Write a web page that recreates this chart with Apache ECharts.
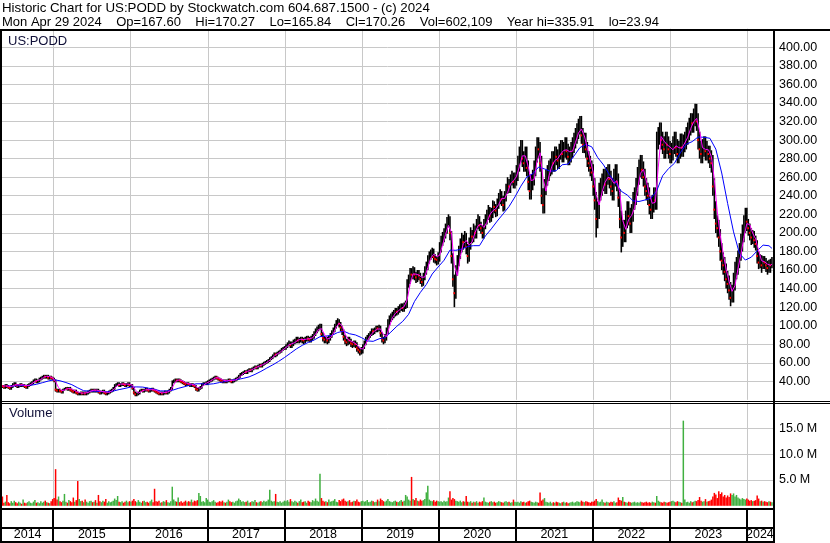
<!DOCTYPE html>
<html><head><meta charset="utf-8">
<script src="https://cdn.jsdelivr.net/npm/echarts@6/dist/echarts.min.js"></script>
<style>html,body{margin:0;padding:0;background:#fff}#c{width:830px;height:543px}</style>
</head><body><div id="c"></div>
<script>
// ---------------- DATA (weekly, first week Mon 2014-05-05) ----------------
const firstWeek = '2014-05-05';
const closes = [
35,34,36,35,34,33,35,37,38,36,35,36,37,36,36,35,34,36,37,38,39,41,42,40,41,43,44,45,46,45,46,44,45,44,43,
41,31,30,31,30,29,31,32,33,32,33,31,30,29,30,28,27,27,28,27,28,27,28,29,30,31,30,31,30,31,29,28,29,30,28,27,28,29,30,31,33,36,37,38,36,37,38,37,36,37,38,36,
36,33,28,26,27,28,30,31,30,31,32,31,30,31,32,31,30,29,28,27,28,27,28,29,28,29,31,33,40,41,42,41,42,41,40,39,38,37,38,37,36,37,36,35,32,31,33,34,37,38,38,39,
40,41,42,43,44,45,44,43,42,41,40,41,40,41,42,41,40,41,42,43,44,46,48,49,50,51,50,52,53,52,54,55,56,55,57,58,57,59,60,61,62,63,65,66,68,70,69,71,72,73,75,76,77,
78,80,82,79,81,83,84,86,84,85,86,85,84,86,87,86,85,87,89,92,95,97,99,100,91,87,85,86,84,87,90,93,96,100,104,105,102,98,94,88,84,82,86,84,81,80,82,80,76,74,72,75,
78,82,86,88,90,92,95,94,96,98,97,99,92,86,84,88,95,104,108,110,112,114,116,115,118,120,121,119,122,124,146,150,158,155,160,155,152,157,154,150,147,153,160,165,172,176,178,180,174,172,171,175,
185,192,196,200,205,212,215,200,175,150,135,160,170,180,188,195,190,197,185,175,190,200,196,205,200,210,215,208,205,200,210,215,220,225,218,222,230,228,224,232,238,242,236,230,240,248,255,250,258,262,255,260,
265,275,285,292,280,275,285,270,255,245,255,260,270,285,295,290,275,240,230,250,260,265,270,272,280,275,285,282,278,288,292,285,290,295,288,282,285,290,295,300,305,310,315,318,305,295,300,290,280,275,270,265,
250,235,215,225,245,250,255,260,252,262,265,258,250,245,260,265,255,238,215,195,205,200,215,225,218,210,222,235,240,250,262,270,275,268,260,250,245,240,230,225,232,240,235,300,305,310,300,295,290,300,295,290,285,
288,295,300,292,285,290,298,292,297,300,305,310,315,320,318,325,330,320,300,290,285,292,295,288,290,285,280,275,250,225,210,205,195,180,170,165,158,150,145,138,130,135,148,160,165,172,180,190,200,210,218,212,
205,200,195,198,192,188,175,168,172,165,170,168,165,162,168,165,170];
const highs = [
36,36,37,37,36,35,36,38,39,39,37,37,38,38,37,37,36,37,38,39,40,42,43,43,42,44,45,46,47,47,47,47,46,46,45,
44,42,32,32,32,31,32,33,34,34,34,34,32,31,31,31,29,28,29,29,29,29,29,30,31,32,32,32,32,32,32,30,30,31,31,29,29,30,31,32,34,37,38,39,39,38,39,39,38,38,39,39,
37,37,34,29,28,29,31,32,32,32,33,33,32,32,33,33,32,31,30,29,29,29,29,30,30,30,32,34,41,42,43,43,43,43,42,41,40,39,39,39,38,38,38,37,36,33,34,35,38,39,39,40,
41,42,43,44,45,46,46,45,44,43,42,42,42,42,43,43,42,42,43,44,45,47,49,50,51,52,52,53,54,54,55,56,57,57,58,59,59,60,61,62,63,64,66,67,69,71,71,72,73,74,76,77,78,
80,82,84,83,83,85,86,88,88,87,88,88,87,88,89,89,88,89,91,94,97,99,101,102,102,93,89,88,88,89,92,95,98,102,106,108,107,104,100,96,90,86,88,88,86,83,84,84,82,78,76,77,
80,84,88,90,92,94,97,97,98,100,100,101,100,93,88,91,98,107,111,113,115,117,119,119,121,123,124,124,125,127,150,155,162,162,164,163,158,160,160,157,153,157,164,169,176,180,182,184,183,177,175,179,
190,197,201,205,210,217,220,218,202,178,155,165,176,186,194,200,198,202,200,188,195,206,203,210,208,215,220,218,212,208,215,220,225,230,228,227,235,234,231,237,243,247,245,240,245,253,260,258,263,267,265,265,
273,283,293,300,300,288,293,293,278,263,263,268,278,293,303,303,298,283,248,258,268,273,278,280,288,288,293,293,290,296,300,300,298,303,303,296,293,298,303,308,313,318,323,326,326,313,308,308,298,288,283,278,
274,259,244,234,254,259,264,269,269,271,274,274,267,259,269,274,274,264,247,224,214,214,224,234,234,227,231,244,249,259,271,279,284,284,277,269,259,254,249,239,241,249,249,309,314,319,319,309,304,309,309,304,299,
297,304,309,309,301,299,307,307,306,309,314,319,324,329,329,334,339,339,329,309,299,301,304,304,299,294,294,289,284,259,234,219,214,204,189,179,174,167,159,154,147,144,157,169,174,181,189,199,209,219,227,227,
215,210,205,203,202,197,192,180,177,176,175,175,173,170,171,172,174];
const lows = [
34,33,33,34,33,32,32,34,36,35,34,34,35,35,35,34,33,33,35,36,37,38,40,39,39,40,42,43,44,44,44,43,43,43,42,
40,30,29,29,29,28,28,31,32,31,31,30,29,28,28,27,26,26,26,26,26,26,26,27,28,29,29,29,29,29,28,27,27,28,27,26,26,27,28,29,30,32,35,36,35,35,36,36,35,35,36,35,
35,32,27,25,25,26,27,30,29,29,30,30,29,29,30,30,29,28,27,26,26,26,26,27,27,27,28,30,32,39,40,40,40,40,39,38,37,36,36,36,35,35,35,34,31,30,30,32,33,36,37,37,
37,39,40,41,42,43,43,42,41,40,39,39,39,39,40,40,39,39,40,41,42,43,45,47,48,49,49,49,51,51,51,53,54,54,54,56,56,56,58,59,60,61,62,64,65,67,67,68,70,71,72,74,75,
75,77,79,77,77,79,81,82,82,82,83,82,81,82,84,84,83,83,85,87,90,93,95,97,89,84,82,82,81,82,85,88,91,94,98,101,99,95,91,85,81,79,80,81,78,77,78,77,73,71,69,70,
71,76,80,84,86,88,90,91,92,94,94,95,89,83,81,82,85,92,101,105,107,109,111,112,113,115,117,116,116,119,120,142,146,151,151,150,147,148,150,146,143,144,150,156,161,168,172,174,169,168,166,167,
170,180,187,191,195,200,207,193,168,143,121,130,155,165,173,180,183,185,178,168,170,183,190,191,195,195,205,203,200,195,195,205,210,215,212,213,217,222,218,219,227,232,230,224,225,235,243,244,244,252,249,249,
252,257,267,277,272,267,267,262,247,237,237,247,252,262,277,282,267,232,222,222,242,252,257,262,264,267,267,274,270,270,280,277,277,282,280,274,274,277,282,287,292,297,302,307,297,287,287,282,272,267,262,257,
241,226,196,206,216,236,241,246,243,243,253,249,241,236,236,251,246,229,206,180,186,191,191,206,209,201,201,213,226,231,241,253,261,259,251,241,236,231,221,216,216,223,226,226,291,296,291,286,281,281,286,281,276,
276,279,286,283,276,276,281,283,283,288,291,296,301,306,309,309,316,311,291,281,276,276,283,279,279,276,271,266,241,216,201,196,186,171,161,156,149,141,136,129,122,126,126,139,151,156,163,171,181,191,201,203,
198,193,188,189,185,182,168,162,163,158,162,162,159,156,158,158,163];
const volumesM = [
1.8,0.6,0.8,2.1,0.7,0.5,0.9,0.6,1.0,0.7,0.5,0.8,0.6,0.4,1.2,0.6,0.5,0.7,0.9,0.6,0.5,0.8,1.1,0.6,0.7,0.5,0.9,0.6,0.8,1.0,0.7,0.6,0.5,0.9,1.3,
1.5,7.1,1.2,1.8,0.9,0.7,1.0,2.3,0.8,0.6,1.1,0.9,0.7,1.6,0.8,1.1,4.8,1.3,0.9,1.0,0.7,1.2,0.8,0.6,0.9,1.0,0.7,0.8,1.1,0.6,2.1,0.9,0.7,1.0,0.8,1.3,0.6,0.9,0.7,0.8,1.0,1.4,1.1,1.9,0.8,0.7,0.9,0.6,0.8,1.0,0.7,0.9,
0.8,1.0,1.3,0.9,0.7,1.1,0.8,0.6,0.9,1.0,0.7,0.8,0.6,0.9,1.2,0.7,3.3,0.9,0.8,1.0,0.6,0.7,0.9,0.8,1.1,0.7,0.6,0.9,3.7,1.2,0.9,0.8,1.6,0.7,0.9,0.6,0.8,1.0,0.7,0.9,0.8,1.2,0.7,1.0,0.9,1.1,2.5,1.9,0.8,0.9,0.7,1.5,
1.2,0.8,0.7,0.9,1.1,0.8,0.6,0.7,0.9,0.8,1.0,0.7,0.6,0.8,1.2,0.9,0.7,0.8,0.6,0.9,1.0,1.4,1.1,0.8,0.9,0.7,0.8,1.0,0.6,0.7,0.9,0.8,1.1,0.7,0.6,0.8,0.9,0.7,1.0,0.8,0.9,1.2,3.1,1.0,0.8,0.9,2.3,0.8,0.7,0.9,0.6,0.8,1.0,
0.9,1.1,0.8,1.3,0.9,0.7,1.0,0.8,0.6,0.9,1.2,0.7,0.8,0.9,0.6,1.0,0.8,0.7,1.1,0.9,1.4,1.0,0.8,6.2,1.5,1.0,0.8,0.9,0.7,1.2,0.8,0.9,1.0,1.3,0.8,0.7,1.1,0.9,1.2,1.4,1.0,0.8,0.9,1.1,0.7,0.8,1.0,0.9,1.2,0.8,0.7,0.9,
1.0,0.8,0.9,1.1,0.7,0.8,1.0,0.9,0.7,0.8,1.2,0.9,1.4,1.1,0.9,0.8,1.0,1.3,0.9,0.8,0.7,0.9,1.0,0.8,0.7,0.9,1.1,0.8,1.0,2.1,1.8,1.2,1.0,5.6,1.3,1.1,1.5,1.0,0.9,1.2,1.0,1.1,1.3,2.6,3.9,1.2,1.0,0.9,1.1,0.8,1.0,0.9,
0.8,0.9,0.7,1.0,0.8,0.9,1.6,2.8,1.2,1.5,1.3,1.0,0.9,0.8,1.0,0.7,0.9,0.8,1.9,0.8,0.7,0.9,0.6,0.8,0.7,0.9,0.6,0.8,0.7,0.9,1.6,0.8,0.7,0.6,0.8,0.9,0.7,0.8,0.6,0.7,0.9,0.8,0.7,0.6,0.8,0.9,0.7,0.8,0.6,0.7,1.2,0.8,
0.7,0.8,0.6,0.9,0.7,0.8,0.6,0.7,0.9,1.0,0.8,0.7,0.6,0.8,0.7,0.6,2.6,1.0,1.2,1.5,0.8,0.7,0.6,0.8,0.5,0.7,0.6,0.8,0.7,0.6,0.5,0.7,0.8,0.6,0.7,0.5,0.6,0.7,0.8,0.6,0.7,0.9,0.8,0.7,1.0,0.8,0.7,0.9,0.8,0.7,0.6,0.8,
0.8,1.0,1.3,0.9,0.7,0.8,1.2,0.7,0.6,0.8,0.7,0.6,0.8,0.7,0.9,0.6,0.7,1.6,1.1,1.0,1.7,0.8,0.7,0.6,0.8,0.7,0.6,0.7,0.8,0.6,0.7,0.6,0.8,0.7,0.6,0.7,0.8,0.6,0.7,0.6,0.8,0.7,0.6,1.9,1.0,0.8,0.7,0.6,0.8,0.7,0.6,0.7,0.8,
0.9,1.0,0.8,0.7,0.9,0.8,0.7,0.6,16.5,1.2,0.7,0.8,0.6,0.9,0.7,0.8,1.0,0.9,1.1,1.7,1.0,0.8,0.9,1.3,0.8,0.9,1.0,1.2,1.8,2.5,2.2,1.5,2.8,2.3,2.6,1.8,2.1,1.6,2.0,1.7,2.4,2.1,2.4,1.8,2.1,1.6,1.4,1.2,1.5,1.3,1.2,1.4,
1.2,1.0,1.1,0.9,1.0,1.1,2.0,1.4,0.9,1.0,0.8,0.9,0.8,0.7,0.9,0.8,0.7];
// short moving average (pink), one value every 2 weeks
const pinkMA = [
35,35,34.8,34.3,35.8,36.5,36,36.3,35.3,35.5,
37.5,40,41,42,44.5,45.5,45,44,39.8,33.3,
30,30.5,32,32.3,30.8,29.3,28,27.3,27.5,28,
29.5,30.5,30.5,29.5,29,28.5,28,29.5,32.5,36,
37,37,37,36.8,35.8,30.8,27.3,29,30.5,31,
31,31,30.5,28.5,27.5,28,28.5,30.3,36.3,41,
41.5,40.5,38.5,37.5,37,36,33.5,32.5,35.5,38,
39.5,41.5,43.5,44,42.5,41,40.5,41,41,41.5,
43.8,46.8,49.5,50.8,51.8,53.5,55,56.5,57.8,59.3,
61.5,64,67.3,69.5,71.3,74,76.5,79.3,80.5,81.8,
84.3,85.3,85,85.5,86,86.8,90.8,95.8,96.8,90.8,
85.5,86.8,91.5,98.3,102.8,99.8,91,85,83.3,81.8,
79.5,75.5,74.8,80.3,86.5,91.3,94.3,96.3,96.5,90.3,
88.3,98.8,108.5,113,115.8,118.5,120.5,127.8,144.5,155.8,
155.5,154.5,152,152.5,162.5,172.8,177,174.3,175.8,187,
198.3,208,200.5,165,153.8,174.5,188.3,191.8,186.8,190.3,
200.3,207.5,209.5,205.8,211.3,219.5,223.8,226,230.5,237,
237,243.3,252.8,256.3,260.5,271.3,283,283,271.3,256.3,
257.5,277.5,286.3,258.8,245,261.3,271.8,278,280,285,
288.8,289.5,287.5,288,297.5,307.5,312,304.5,291.3,278.8,
265,241.3,230,243.8,254.3,259.8,258.8,253.3,256.3,243.3,
213.3,203.8,214.5,218.8,226.8,246.8,264.3,268.3,255.8,241.3,
231.8,233,270,303.8,298.8,295,292.5,289.5,293.8,291.8,
291.3,296.8,303,312.5,319.5,323.3,310,291.8,290,289.5,
282.5,257.5,222.5,197.5,177.5,160.8,147.8,137,143.3,161.3,
176.8,195,210,208.8,199.5,193.3,180.8,170,168.8,166.3,
165,166.3];
// long moving average (blue), one value every 4 weeks
const blueMA = [
35,34.9,35.3,35.5,35.7,36.8,38.5,40.3,41.7,40.6,
38.7,36.4,33,29.9,29.5,29.3,28.9,28.8,29.5,31.1,
32.4,33.9,34,33.8,32.6,31.4,29.7,29.6,30.3,32.4,
34.1,35.9,37.3,37.4,36.8,37.4,38.7,39.8,41.3,42,
43.2,44.8,47.5,50.7,54.3,57.7,61.5,65.7,70.3,74.9,
78.8,81.9,84.5,88.1,88.8,89.5,92.6,94.1,91.3,90,
87.2,83.6,83.1,85.8,87.1,93.1,99.3,104.6,112.2,126.1,
135.9,144.3,155.7,163.2,170.5,181.4,181.2,182.5,185.3,186.2,
186.2,196.7,204.3,212.7,220.4,228.4,238.7,250.3,260.1,263.5,
270.9,268.9,266.4,267,273.4,274.1,282.9,291.9,295.3,292.7,
281.2,273.2,262.6,254.1,244.8,240.8,234.5,233.8,235.4,237.3,
245.4,261.6,269.3,275,286.3,295.6,298.3,303.3,303,301.9,
290.2,264.5,231.7,201.1,177.8,170.7,173.8,180.6,186.8,186.1,
183.3];
const yearLabels = ['2014','2015','2016','2017','2018','2019','2020','2021','2022','2023','2024'];
const headerLine1 = 'Historic Chart for US:PODD by Stockwatch.com 604.687.1500 - (c) 2024';
const headerLine2 = 'Mon Apr 29 2024    Op=167.60    Hi=170.27    Lo=165.84    Cl=170.26    Vol=602,109    Year hi=335.91    lo=23.94';
const symbolLabel = 'US:PODD';
const volumeLabel = 'Volume';

// ---------------- BUILD ----------------
const DAY = 86400000, WEEK = 7 * DAY;
const t0 = Date.parse(firstWeek + 'T00:00:00Z');
const lastWeek = closes.length - 1;
const weekTime = i => t0 + i * WEEK;
const xMin = Date.UTC(2014, 4, 3), xMax = Date.UTC(2024, 4, 4);
const yearStarts = yearLabels.map(y => Date.UTC(+y, 0, 1));
const FONT = '"Liberation Sans", Arial, sans-serif';

const priceData = closes.map((c, i) => [weekTime(i), highs[i], lows[i], c, i > 0 ? closes[i - 1] : c + 1]);
const volData = volumesM.map((v, i) => [weekTime(i), v * 1e6, (i > 0 && closes[i] >= closes[i - 1]) ? 1 : 0]);
const pinkData = pinkMA.map((v, j) => [weekTime(Math.min(2 * j, lastWeek)), v]);
const blueData = blueMA.map((v, k) => [weekTime(Math.min(4 * k + 3, lastWeek)), v]);
const gridYears = yearStarts.filter(t => t > xMin && t < xMax).map(t => [t, 0]);

function vGrid(color, width) {
  return (p, api) => {
    const cs = p.coordSys;
    const px = Math.round(api.coord([api.value(0), 0])[0]);
    const x = width % 2 ? px + 0.5 : px;
    return { type: 'line', shape: { x1: x, y1: cs.y, x2: x, y2: cs.y + cs.height },
             style: { stroke: color, lineWidth: width } };
  };
}

const axisLabelStyle = { color: '#000', fontFamily: FONT, fontSize: 12.5, margin: 6 };

const option = {
  animation: false,
  useUTC: true,
  backgroundColor: '#fff',
  textStyle: { fontFamily: FONT },
  grid: [
    { left: 2, width: 771, top: 28.7, height: 371.2 },
    { left: 2, width: 771, top: 402.6, height: 103.2 },
    { left: 2, width: 771, top: 510, height: 31 }
  ],
  xAxis: [0, 1, 2].map(g => ({ type: 'time', gridIndex: g, min: xMin, max: xMax, show: false })),
  yAxis: [
    { type: 'value', gridIndex: 0, min: 20, max: 420, interval: 20, position: 'right',
      axisLine: { show: false }, axisTick: { show: false },
      axisLabel: Object.assign({ formatter: v => v.toFixed(2), showMinLabel: false, showMaxLabel: false }, axisLabelStyle),
      splitLine: { show: true, showMinLine: false, showMaxLine: false, lineStyle: { color: '#c8c8c8', width: 1 } } },
    { type: 'value', gridIndex: 1, min: 0, max: 20e6, interval: 5e6, position: 'right',
      axisLine: { show: false }, axisTick: { show: false },
      axisLabel: Object.assign({ formatter: v => (v / 1e6).toFixed(1) + ' M', showMinLabel: false, showMaxLabel: false }, axisLabelStyle),
      splitLine: { show: true, showMinLine: false, showMaxLine: false, lineStyle: { color: '#c8c8c8', width: 1 } } },
    { type: 'value', gridIndex: 2, min: 0, max: 1, show: false }
  ],
  series: [
    { type: 'custom', xAxisIndex: 0, yAxisIndex: 0, z: 1, silent: true, data: gridYears, renderItem: vGrid('#c8c8c8', 1) },
    { type: 'custom', xAxisIndex: 1, yAxisIndex: 1, z: 1, silent: true, data: gridYears, renderItem: vGrid('#c8c8c8', 1) },
    { type: 'custom', xAxisIndex: 2, yAxisIndex: 2, z: 1, silent: true, data: gridYears, renderItem: vGrid('#000', 2) },
    { type: 'custom', name: 'price', xAxisIndex: 0, yAxisIndex: 0, z: 2, silent: true, data: priceData,
      renderItem: (p, api) => {
        const t = api.value(0);
        const ph = api.coord([t, api.value(1)]);
        const pl = api.coord([t, api.value(2)]);
        const pc = api.coord([t, api.value(3)]);
        const children = [{ type: 'line', shape: { x1: ph[0], y1: ph[1], x2: pl[0], y2: pl[1] + 1 },
                            style: { stroke: '#000', lineWidth: 1.6 } }];
        if (api.value(3) < api.value(4)) {
          children.push({ type: 'rect', shape: { x: pc[0] - 1, y: pc[1] - 1, width: 2, height: 2 }, style: { fill: '#ff0000' } });
        }
        return { type: 'group', children };
      } },
    { type: 'line', name: 'ma long', xAxisIndex: 0, yAxisIndex: 0, z: 3, silent: true, data: blueData,
      showSymbol: false, lineStyle: { color: '#0000ff', width: 1 } },
    { type: 'line', name: 'ma short', xAxisIndex: 0, yAxisIndex: 0, z: 4, silent: true, data: pinkData,
      showSymbol: false, lineStyle: { color: '#ff00ff', width: 1 } },
    { type: 'custom', name: 'volume', xAxisIndex: 1, yAxisIndex: 1, z: 2, silent: true, data: volData,
      renderItem: (p, api) => {
        const t = api.value(0);
        const p0 = api.coord([t, 0]);
        const p1 = api.coord([t, api.value(1)]);
        return { type: 'rect', shape: { x: p0[0] - 0.75, y: p1[1], width: 1.5, height: p0[1] - p1[1] },
                 style: { fill: api.value(2) ? '#40b040' : '#ff0000' } };
      } },
    { type: 'custom', name: 'years', xAxisIndex: 2, yAxisIndex: 2, z: 3, silent: true,
      data: yearLabels.map((y, i) => [yearStarts[i], i]),
      renderItem: (p, api) => {
        const i = api.value(1);
        const s = Math.max(yearStarts[i], xMin);
        const e = Math.min(i + 1 < yearStarts.length ? yearStarts[i + 1] : xMax, xMax);
        const xs = api.coord([s, 0])[0], xe = api.coord([e, 0])[0];
        return { type: 'text', x: (xs + xe) / 2, y: 534.5,
                 style: { text: yearLabels[i], fill: '#000', font: '12.5px ' + FONT,
                          align: 'center', verticalAlign: 'middle', textAlign: 'center', textVerticalAlign: 'middle' } };
      } }
  ],
  graphic: [
    { type: 'rect', z: 100, silent: true, shape: { x: 0, y: 29, width: 830, height: 2 }, style: { fill: '#000' } },
    { type: 'rect', z: 100, silent: true, shape: { x: 0, y: 29, width: 2, height: 514 }, style: { fill: '#000' } },
    { type: 'rect', z: 100, silent: true, shape: { x: 773, y: 29, width: 2, height: 514 }, style: { fill: '#000' } },
    { type: 'rect', z: 100, silent: true, shape: { x: 0, y: 401, width: 830, height: 1 }, style: { fill: '#000' } },
    { type: 'rect', z: 100, silent: true, shape: { x: 0, y: 403, width: 830, height: 1 }, style: { fill: '#000' } },
    { type: 'rect', z: 100, silent: true, shape: { x: 0, y: 508, width: 775, height: 2 }, style: { fill: '#000' } },
    { type: 'rect', z: 100, silent: true, shape: { x: 0, y: 527, width: 775, height: 2 }, style: { fill: '#000' } },
    { type: 'rect', z: 100, silent: true, shape: { x: 0, y: 541, width: 775, height: 2 }, style: { fill: '#000' } },
    { type: 'text', z: 100, silent: true, x: 2, y: 8, style: { text: headerLine1, fill: '#000', font: '13.3px ' + FONT, textVerticalAlign: 'middle', verticalAlign: 'middle' } },
    { type: 'text', z: 100, silent: true, x: 2, y: 22, style: { text: headerLine2, fill: '#000', font: '13px ' + FONT, textVerticalAlign: 'middle', verticalAlign: 'middle' } },
    { type: 'text', z: 100, silent: true, x: 8, y: 41.5, style: { text: symbolLabel, fill: '#101038', font: '13px ' + FONT, textVerticalAlign: 'middle', verticalAlign: 'middle' } },
    { type: 'text', z: 100, silent: true, x: 9, y: 413.5, style: { text: volumeLabel, fill: '#101038', font: '13px ' + FONT, textVerticalAlign: 'middle', verticalAlign: 'middle' } }
  ]
};
const chart = echarts.init(document.getElementById('c'), null, { renderer: 'canvas' });
chart.setOption(option);
</script>
</body></html>
